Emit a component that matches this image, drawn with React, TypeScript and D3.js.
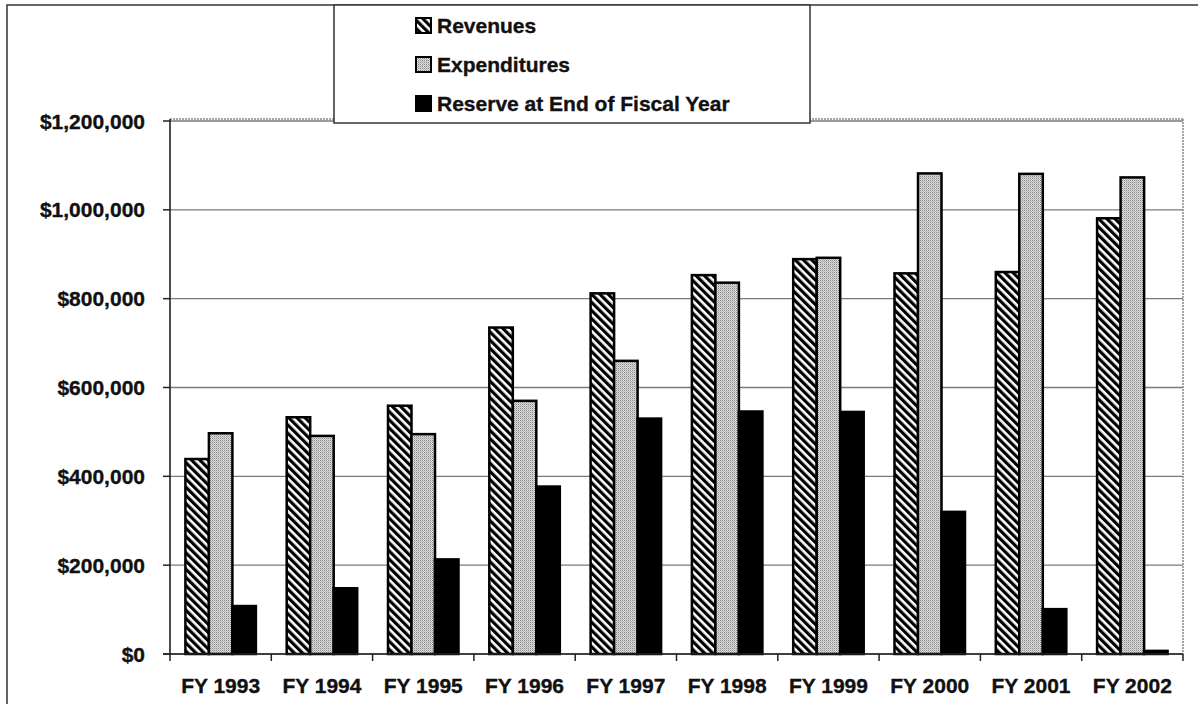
import React from "react";
import * as d3 from "d3";

const categories = ["FY 1993", "FY 1994", "FY 1995", "FY 1996", "FY 1997", "FY 1998", "FY 1999", "FY 2000", "FY 2001", "FY 2002"];
const revenues = [439000, 533000, 559000, 735000, 812000, 853000, 889000, 857000, 860000, 981000];
const expenditures = [497000, 491000, 495000, 570000, 660000, 836000, 892000, 1082000, 1081000, 1073000];
const reserve = [108000, 148000, 213000, 377000, 530000, 546000, 545000, 320000, 101000, 7000];
const seriesNames = ["Revenues", "Expenditures", "Reserve at End of Fiscal Year"];
const yTicks = [0, 200000, 400000, 600000, 800000, 1000000, 1200000];

const W = 1198;
const H = 704;
const plot = { left: 170, right: 1183, top: 121, bottom: 654 };
const FONT = "'Liberation Sans', Arial, Helvetica, sans-serif";

export default function App() {
  const x0 = d3.scaleBand<string>().domain(categories).range([plot.left, plot.right]).paddingInner(0).paddingOuter(0);
  const x1 = d3.scaleBand<string>().domain(seriesNames).range([0, x0.bandwidth()]).paddingInner(0).paddingOuter(0.655);
  const y = d3.scaleLinear().domain([0, 1200000]).range([plot.bottom, plot.top]);
  const fmt = (v: number) => "$" + d3.format(",")(v);
  const fills = ["url(#stripes)", "url(#stipple)", "#000"];
  const data = [revenues, expenditures, reserve];
  const boundaries = d3.range(categories.length + 1).map((i) => (i < categories.length ? (x0(categories[i]) as number) : plot.right));
  const textProps = { fontWeight: "bold", fill: "#111", stroke: "#111", strokeWidth: 0.35 } as const;

  return (
    <svg width={W} height={H} style={{ position: "absolute", left: 0, top: 0, background: "#fff" }} fontFamily={FONT}>
      <defs>
        <pattern id="stripes" patternUnits="userSpaceOnUse" width={5.8} height={5.8} patternTransform="rotate(-45)">
          <rect width={5.8} height={5.8} fill="#fff" />
          <rect width={3.2} height={5.8} fill="#000" />
        </pattern>
        <pattern id="stipple" patternUnits="userSpaceOnUse" width={2} height={2}>
          <rect width={2} height={2} fill="#dcdcdc" />
          <rect x={0} y={0} width={1} height={1} fill="#8a8a8a" />
          <rect x={1} y={1} width={1} height={1} fill="#b8b8b8" />
        </pattern>
      </defs>
      <rect x={0} y={0} width={W} height={H} fill="#fff" />
      {/* outer frame */}
      <rect x={7} y={5} width={W + 10} height={H + 10} fill="none" stroke="#333" strokeWidth={1.5} />

      {/* gridlines */}
      {yTicks.map((t) => (
        <line key={"g" + t} x1={plot.left} x2={plot.right} y1={y(t)} y2={y(t)} stroke="#7a7a7a" strokeWidth={1.3} />
      ))}
      {/* plot border top/right */}
      <line x1={plot.right} x2={plot.right} y1={plot.top - 2} y2={plot.bottom} stroke="#888" strokeWidth={1.5} strokeDasharray="2 1" />
      <line x1={plot.left} x2={plot.right} y1={plot.top - 2} y2={plot.top - 2} stroke="#888" strokeWidth={1.5} strokeDasharray="2 1" />

      {/* bars */}
      {data.map((vals, si) =>
        vals.map((v, ci) => {
          const bx = (x0(categories[ci]) as number) + (x1(seriesNames[si]) as number);
          const by = y(v);
          return (
            <rect
              key={si + "-" + ci}
              x={bx}
              y={by}
              width={x1.bandwidth()}
              height={plot.bottom - by}
              fill={fills[si]}
              stroke="#000"
              strokeWidth={2.5}
            />
          );
        })
      )}

      {/* axes */}
      <line x1={plot.left} x2={plot.left} y1={plot.top - 2} y2={plot.bottom} stroke="#222" strokeWidth={1.6} />
      <line x1={plot.left - 7} x2={plot.right} y1={plot.bottom} y2={plot.bottom} stroke="#222" strokeWidth={1.6} />
      {yTicks.map((t) => (
        <g key={"yt" + t}>
          <line x1={plot.left - 7} x2={plot.left} y1={y(t)} y2={y(t)} stroke="#222" strokeWidth={1.5} />
          <text x={145} y={y(t)} dy="0.36em" textAnchor="end" fontSize={21} {...textProps}>
            {fmt(t)}
          </text>
        </g>
      ))}
      {boundaries.map((bx, i) => (
        <line key={"xt" + i} x1={bx} x2={bx} y1={plot.bottom} y2={plot.bottom + 7} stroke="#222" strokeWidth={1.5} />
      ))}
      {categories.map((c) => (
        <text key={"xl" + c} x={(x0(c) as number) + x0.bandwidth() / 2} y={693} textAnchor="middle" fontSize={21} {...textProps}>
          {c}
        </text>
      ))}

      {/* legend */}
      <rect x={334} y={5} width={476} height={118} fill="#fff" stroke="#333" strokeWidth={1.5} />
      {seriesNames.map((n, i) => {
        const base = 33 + i * 39;
        return (
          <g key={"lg" + n}>
            <rect x={416} y={base - 15} width={15} height={15} fill={fills[i]} stroke="#000" strokeWidth={2} />
            <text x={437} y={base} fontSize={21} {...textProps}>
              {n}
            </text>
          </g>
        );
      })}
    </svg>
  );
}
